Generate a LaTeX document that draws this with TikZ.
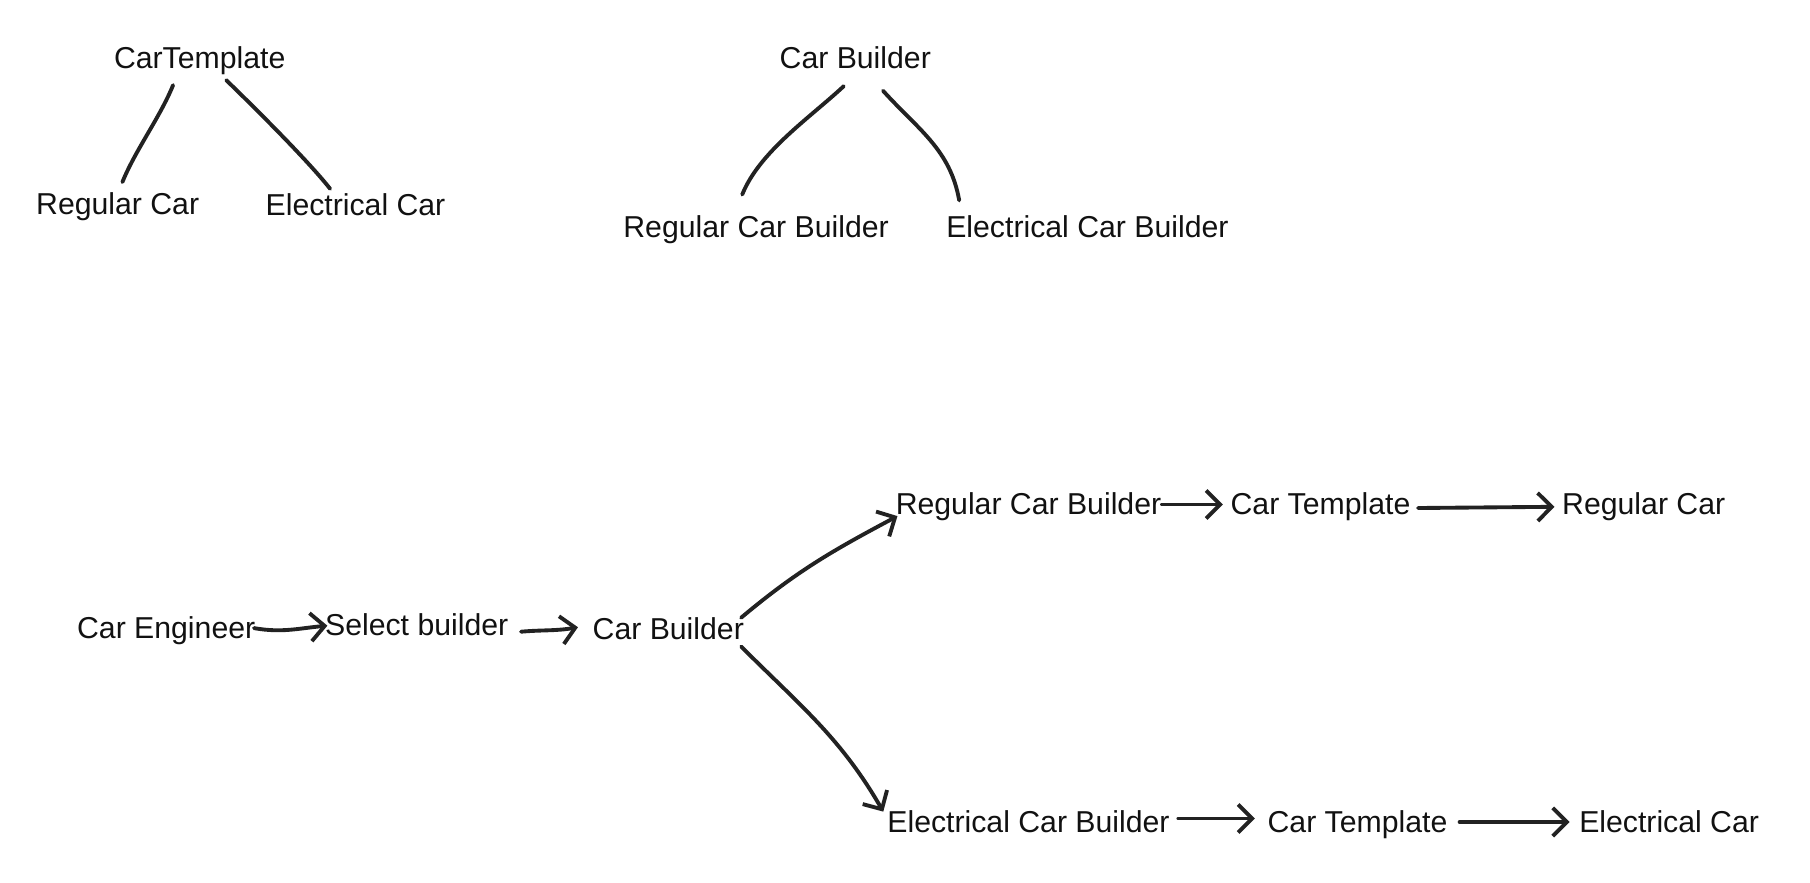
\documentclass[tikz,border=0pt]{standalone}
\usepackage{fontspec}
\setmainfont{Liberation Sans}
\usetikzlibrary{arrows.meta}
\definecolor{inkgray}{RGB}{34, 34, 34}
\definecolor{textblack}{RGB}{17, 17, 17}

\begin{document}
\begin{tikzpicture}[
        word/.style={inner sep=2pt, text height=6.5pt, text depth=1.8pt, text=textblack, font=\fontsize{8.6}{10}\selectfont},
        inkline/.style={draw=inkgray, line width=1.1pt, line cap=round, line join=round},
        inkarrow/.style={inkline, -{Straight Barb[length=4pt,width=8pt]}}
    ]
        \useasboundingbox (0,0) rectangle (18.1,8.82);

        % CarTemplate tree
        \node[word] (ct) at (1.997,8.222) {CarTemplate};
        \node[word] (rc0) at (1.177,6.756) {Regular Car};
        \node[word] (ec0) at (3.555,6.744) {Electrical Car};
        \draw[inkline] ([xshift=-0.266cm,yshift=-0.03cm]ct.south) to[out=-112,in=68,looseness=0.8] ([xshift=0.047cm,yshift=0.02cm]rc0.north);
        \draw[inkline] ([xshift=0.265cm,yshift=0.02cm]ct.south) to[out=-44,in=128,looseness=0.6] ([xshift=-0.254cm,yshift=-0.035cm]ec0.north);

        % Car Builder tree
        \node[word] (cb0) at (8.553,8.222) {Car Builder};
        \node[word] (rcb0) at (7.561,6.525) {Regular Car Builder};
        \node[word] (ecb0) at (10.874,6.525) {Electrical Car Builder};
        \draw[inkline] ([xshift=-0.115cm,yshift=-0.04cm]cb0.south) to[out=-137,in=68,looseness=0.8] ([xshift=-0.139cm,yshift=0.126cm]rcb0.north);
        \draw[inkline] ([xshift=0.277cm,yshift=-0.086cm]cb0.south) to[out=-48,in=100] ([xshift=-1.282cm,yshift=0.068cm]ecb0.north);

        % Engineer flow
        \node[word] (eng) at (1.662,2.519) {Car Engineer};
        \node[word] (sel) at (4.167,2.543) {Select builder};
        \node[word] (cb) at (6.683,2.508) {Car Builder};
        \node[word] (rcb) at (10.285,3.755) {Regular Car Builder};
        \node[word] (ctr) at (13.205,3.755) {Car Template};
        \node[word] (rc) at (16.437,3.755) {Regular Car};
        \node[word] (ecb) at (10.285,0.580) {Electrical Car Builder};
        \node[word] (cte) at (13.575,0.580) {Car Template};
        \node[word] (ec) at (16.691,0.580) {Electrical Car};

        \draw[inkarrow] ([xshift=-0.09cm,yshift=0.02cm]eng.east) to[out=-10,in=185] ([xshift=0.1cm,yshift=0.02cm]sel.west);
        \draw[inkarrow] ([xshift=0.05cm,yshift=-0.04cm]sel.east) to[out=5,in=190] ([xshift=-0.07cm,yshift=0.04cm]cb.west);
        \draw[inkarrow] ([xshift=-0.105cm,yshift=0.135cm]cb.east) to[out=40,in=208] ([xshift=0.094cm,yshift=-0.096cm]rcb.west);
        \draw[inkarrow] ([xshift=-0.105cm,yshift=-0.153cm]cb.east) to[out=-45,in=120] ([xshift=0.036cm,yshift=0.124cm]ecb.west);
        \draw[inkarrow] ([xshift=-0.07cm,yshift=0.02cm]rcb.east) -- ([yshift=0.02cm]ctr.west);
        \draw[inkarrow] ([yshift=-0.015cm]ctr.east) -- ([yshift=-0.003cm]rc.west);
        \draw[inkarrow] ([xshift=0.01cm,yshift=0.055cm]ecb.east) -- ([xshift=-0.05cm,yshift=0.055cm]cte.west);
        \draw[inkarrow] ([xshift=0.045cm,yshift=0.02cm]cte.east) -- ([xshift=-0.02cm,yshift=0.02cm]ec.west);
    \end{tikzpicture}
\end{document}
